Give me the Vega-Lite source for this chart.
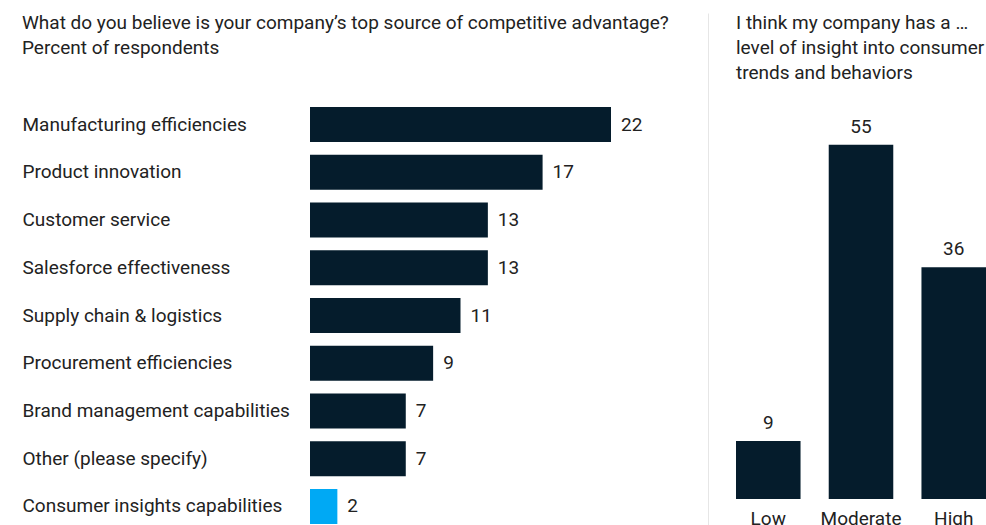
{
  "$schema": "https://vega.github.io/schema/vega-lite/v6.json",
  "padding": {"left": 22, "top": 13, "right": 0, "bottom": 0},
  "background": "white",
  "bounds": "flush",
  "spacing": 125,
  "config": {"view": {"stroke": null}, "font": "Roboto", "text": {"font": "Roboto"}},
  "datasets": {
    "advantage": [
      {"source": "Manufacturing efficiencies", "pct": 22},
      {"source": "Product innovation", "pct": 17},
      {"source": "Customer service", "pct": 13},
      {"source": "Salesforce effectiveness", "pct": 13},
      {"source": "Supply chain & logistics", "pct": 11},
      {"source": "Procurement efficiencies", "pct": 9},
      {"source": "Brand management capabilities", "pct": 7},
      {"source": "Other (please specify)", "pct": 7},
      {"source": "Consumer insights capabilities", "pct": 2}
    ],
    "insight": [
      {"level": "Low", "pct": 9},
      {"level": "Moderate", "pct": 55},
      {"level": "High", "pct": 36}
    ]
  },
  "hconcat": [
    {
      "data": {"name": "advantage"},
      "width": 301,
      "height": 512,
      "title": {
        "text": ["What do you believe is your company’s top source of competitive advantage?", "Percent of respondents"],
        "anchor": "start", "frame": "group", "orient": "top", "baseline": "top",
        "dx": -288, "offset": -45, "fontSize": 19, "fontWeight": "normal", "lineHeight": 25, "color": "#222222", "font": "Roboto"
      },
      "encoding": {
        "y": {
          "field": "source", "type": "nominal", "sort": null,
          "scale": {"range": [94, 511], "paddingInner": 0.267, "paddingOuter": 0},
          "axis": {"title": null, "domain": false, "ticks": false, "labelAlign": "left", "labelPadding": 288, "labelFontSize": 19, "labelColor": "#222222", "labelFont": "Roboto", "labelLimit": 300}
        },
        "x": {"field": "pct", "type": "quantitative", "scale": {"domain": [0, 22], "nice": false}, "axis": null}
      },
      "layer": [
        {
          "mark": {"type": "bar"},
          "encoding": {
            "color": {"condition": {"test": "datum.source === 'Consumer insights capabilities'", "value": "#00A9F4"}, "value": "#051C2C"}
          }
        },
        {
          "mark": {"type": "text", "align": "left", "baseline": "middle", "dx": 10, "fontSize": 19, "color": "#222222"},
          "encoding": {"text": {"field": "pct", "type": "quantitative"}}
        }
      ]
    },
    {
      "data": {"name": "insight"},
      "width": 250,
      "height": 512,
      "title": {
        "text": ["I think my company has a …", "level of insight into consumer", "trends and behaviors"],
        "anchor": "start", "frame": "group", "orient": "top", "baseline": "top",
        "offset": -70, "fontSize": 19, "fontWeight": "normal", "lineHeight": 25, "color": "#222222", "font": "Roboto"
      },
      "encoding": {
        "x": {
          "field": "level", "type": "nominal", "sort": null,
          "scale": {"paddingInner": 0.304, "paddingOuter": 0},
          "axis": {"orient": "bottom", "offset": -26, "domain": false, "ticks": false, "labelAngle": 0, "labelFontSize": 19, "labelPadding": 10, "labelColor": "#222222", "labelFont": "Roboto", "title": null}
        },
        "y": {
          "field": "pct", "type": "quantitative",
          "scale": {"domain": [-4.04, 75.47], "nice": false, "zero": false},
          "axis": {"orient": "left", "offset": 28, "domain": true, "domainColor": "#e6e6e6", "domainWidth": 1, "labels": false, "ticks": false, "grid": false, "title": null}
        }
      },
      "layer": [
        {
          "mark": {"type": "bar", "color": "#051C2C"},
          "encoding": {"y2": {"datum": 0}}
        },
        {
          "mark": {"type": "text", "align": "center", "baseline": "bottom", "dy": -8, "fontSize": 19, "color": "#222222"},
          "encoding": {"text": {"field": "pct", "type": "quantitative"}}
        }
      ]
    }
  ]
}
